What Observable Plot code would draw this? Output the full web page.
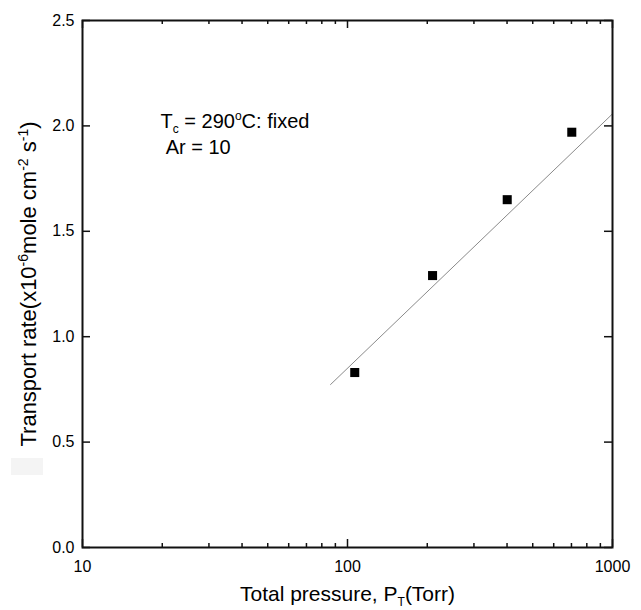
<!DOCTYPE html>
<html>
<head>
<meta charset="utf-8">
<script src="https://cdn.jsdelivr.net/npm/d3@7"></script>
<script src="https://cdn.jsdelivr.net/npm/@observablehq/plot@0.6"></script>
<style>
  html, body { margin: 0; padding: 0; background: #fff; }
  #wrap { position: relative; width: 641px; height: 610px; }
  #smudge { position: absolute; left: 11px; top: 458px; width: 32px; height: 17px; background: #f4f4f4; }
</style>
</head>
<body>
<div id="wrap"><div id="smudge"></div></div>
<script>
// ---- data ----
const pressure = [106.5, 209.4, 400.6, 702];      // Torr
const rate = [0.83, 1.29, 1.65, 1.97];            // x10^-6 mole cm^-2 s^-1
const fitPressure = [86.3, 1000];
const fitRate = [0.773, 2.057];
const xMajorTicks = [10, 100, 1000];
const xMinorTicks = [20, 30, 40, 50, 60, 70, 80, 90, 200, 300, 400, 500, 600, 700, 800, 900];
const yTicks = [0, 0.5, 1.0, 1.5, 2.0, 2.5];
const noteText = ["Tc = 290oC: fixed", "Ar = 10"];
const noteX = [19.7, 20.6];
const noteY = [1.992, 1.869];
const xLabel = "Total pressure, PT(Torr)";
const yLabel = "Transport rate(x10-6mole cm-2 s-1)";

// rich-text versions (sub/superscripts): [text, kind, size]
const richText = {
  "Tc = 290oC: fixed": [["T"], ["c", "sub", 12], [" = 290"], ["o", "sup", 12], ["C: fixed"]],
  "Total pressure, PT(Torr)": [["Total pressure, P"], ["T", "sub", 12], ["(Torr)"]],
  "Transport rate(x10-6mole cm-2 s-1)": [["Transport rate(x10"], ["-6", "sup", 14], ["mole cm"], ["-2", "sup", 14], [" s"], ["-1", "sup", 14], [")"]]
};

const points = pressure.map((p, i) => ({p, r: rate[i]}));
const fit = fitPressure.map((p, i) => ({p, r: fitRate[i]}));
const notes = noteText.map((t, i) => ({t, x: noteX[i], y: noteY[i]}));

const W = 641, H = 610;
const mL = 82, mR = 29, mT = 20, mB = 63;
const innerW = W - mL - mR, innerH = H - mT - mB;
const majorLen = 8, minorLen = 4;

const chart = Plot.plot({
  width: W,
  height: H,
  marginLeft: mL,
  marginRight: mR,
  marginTop: mT,
  marginBottom: mB,
  style: {fontFamily: "'Liberation Sans', Arial, sans-serif", fontSize: "16px", color: "#000", background: "transparent"},
  x: {type: "log", domain: [10, 1000]},
  y: {domain: [0, 2.5]},
  marks: [
    // inward ticks, bottom and top
    Plot.ruleX(xMajorTicks, {insetTop: innerH - majorLen, stroke: "#111", strokeWidth: 1.5}),
    Plot.ruleX(xMinorTicks, {insetTop: innerH - minorLen, stroke: "#111", strokeWidth: 1.5}),
    Plot.ruleX(xMajorTicks, {insetBottom: innerH - majorLen, stroke: "#111", strokeWidth: 1.5}),
    Plot.ruleX(xMinorTicks, {insetBottom: innerH - minorLen, stroke: "#111", strokeWidth: 1.5}),
    // inward ticks, left and right
    Plot.ruleY(yTicks, {insetRight: innerW - majorLen, stroke: "#111", strokeWidth: 1.5}),
    Plot.ruleY(yTicks, {insetLeft: innerW - majorLen, stroke: "#111", strokeWidth: 1.5}),
    Plot.axisX({ticks: xMajorTicks, tickSize: 0, tickPadding: 13, tickFormat: d => String(d), fontSize: 16, label: null}),
    Plot.axisY({ticks: yTicks, tickSize: 0, tickPadding: 8, tickFormat: d3.format(".1f"), fontSize: 16, label: null}),
    Plot.line(fit, {x: "p", y: "r", stroke: "#8a8a8a", strokeWidth: 1}),
    Plot.dot(points, {x: "p", y: "r", symbol: "square", r: 5.1, fill: "#000", stroke: "none"}),
    Plot.text(notes, {x: "x", y: "y", text: "t", textAnchor: "start", lineAnchor: "bottom", fontSize: 20, fill: "#000"}),
    Plot.text([xLabel], {frameAnchor: "bottom", dy: 53, textAnchor: "middle", lineAnchor: "bottom", fontSize: 21, fill: "#000"}),
    Plot.text([yLabel], {frameAnchor: "left", dx: -54, rotate: -90, textAnchor: "middle", lineAnchor: "middle", fontSize: 22, fill: "#000"}),
    Plot.frame({stroke: "#111", strokeWidth: 2})
  ]
});

// apply sub/superscripts as tspans
const NS = "http://www.w3.org/2000/svg";
chart.querySelectorAll("text").forEach(el => {
  const parts = richText[el.textContent];
  if (!parts) return;
  while (el.firstChild) el.removeChild(el.firstChild);
  let shift = 0;
  for (const [s, kind, size] of parts) {
    const t = document.createElementNS(NS, "tspan");
    const target = kind === "sub" ? 5 : kind === "sup" ? -8 : 0;
    if (target - shift !== 0) t.setAttribute("dy", target - shift);
    shift = target;
    if (kind) t.setAttribute("font-size", size);
    t.textContent = s;
    el.appendChild(t);
  }
});

document.getElementById("wrap").appendChild(chart);
chart.style.position = "absolute";
chart.style.left = "0";
chart.style.top = "0";
</script>
</body>
</html>
